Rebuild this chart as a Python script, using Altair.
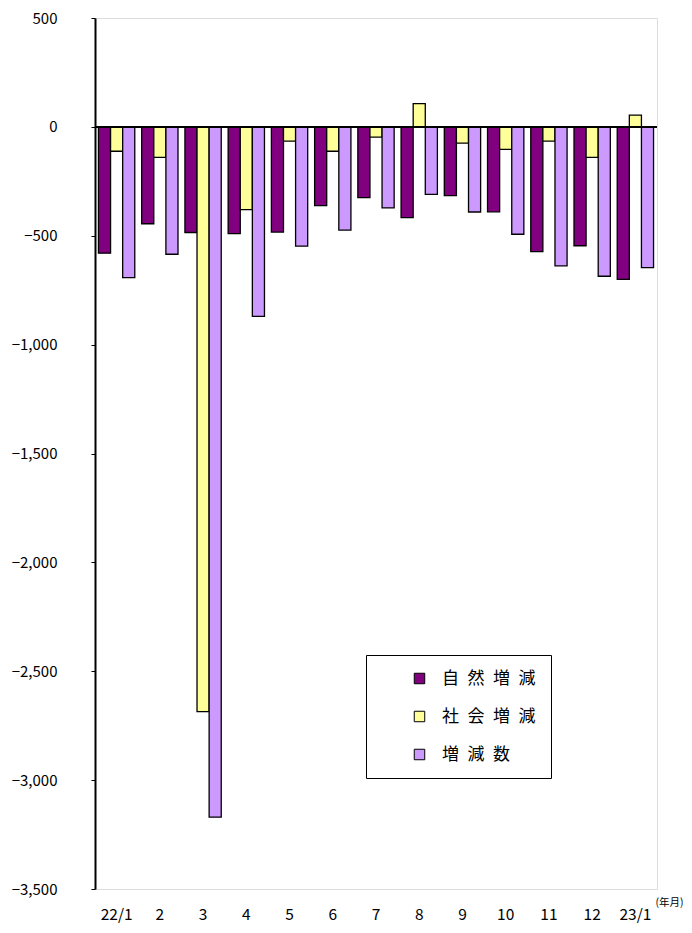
import altair as alt
import pandas as pd

months = ["22/1", "2", "3", "4", "5", "6", "7", "8", "9", "10", "11", "12", "23/1"]
natural = [-580, -445, -485, -490, -483, -362, -325, -417, -316, -390, -573, -546, -700]
social = [-112, -140, -2685, -380, -65, -112, -47, 107, -75, -103, -65, -140, 54]
total = [-692, -585, -3170, -870, -548, -474, -372, -310, -391, -493, -638, -686, -646]
series = ["自然増減", "社会増減", "増減数"]
colors = ["#800080", "#FFFF99", "#CC99FF"]

rows = []
for i, m in enumerate(months):
    for s, vals in zip(series, [natural, social, total]):
        rows.append({"month": m, "series": s, "value": vals[i]})
df = pd.DataFrame(rows)

FONT = "Noto Sans CJK JP"
SP = "\u2002"

bars = alt.Chart(df).mark_bar(stroke="black", strokeWidth=1.3).encode(
    x=alt.X("month:N", sort=months,
            scale=alt.Scale(paddingInner=0.16, paddingOuter=0.08),
            axis=alt.Axis(title="(年月)", labelAngle=0, ticks=False, domain=False,
                          labelPadding=18, labelFontSize=15.5, labelColor="black",
                          labelFont=FONT, titleFont=FONT, titleFontSize=10.5,
                          titleFontWeight="normal", titleX=560, titleY=8,
                          titleAlign="left", titleColor="black")),
    xOffset=alt.XOffset("series:N", sort=series),
    y=alt.Y("value:Q", scale=alt.Scale(domain=[-3500, 500], nice=False, zero=False),
            axis=alt.Axis(title=None, values=list(range(-3500, 501, 500)), format=",.0f",
                          grid=False, domainColor="black", domainWidth=2,
                          tickColor="black", tickSize=4, labelPadding=34,
                          labelFontSize=15, labelFont=FONT, labelColor="black")),
    color=alt.Color("series:N", sort=series,
                    scale=alt.Scale(domain=series, range=colors),
                    legend=alt.Legend(title=None, orient="none", legendX=271, legendY=637,
                                      symbolType="square", symbolSize=110,
                                      symbolStrokeColor="black", symbolStrokeWidth=1,
                                      symbolOffset=30, labelOffset=14,
                                      labelFontSize=17, labelFont=FONT, labelColor="black",
                                      labelExpr=f"join(split(datum.label, ''), '{SP}')",
                                      rowPadding=20, padding=15,
                                      strokeColor="black", fillColor="white")),
)

zero = alt.Chart(pd.DataFrame({"v": [0]})).mark_rule(color="black", strokeWidth=2).encode(
    y="v:Q")

chart = alt.layer(bars, zero).properties(
    width=562, height=871,
    autosize=alt.AutoSizeParams(type="none"),
    padding={"left": 87, "top": 10, "right": 26, "bottom": 36},
).configure_view(stroke="black", strokeWidth=1.5).configure(background="white")

chart.save("out.html", embed_options={"renderer": "svg", "actions": False})
